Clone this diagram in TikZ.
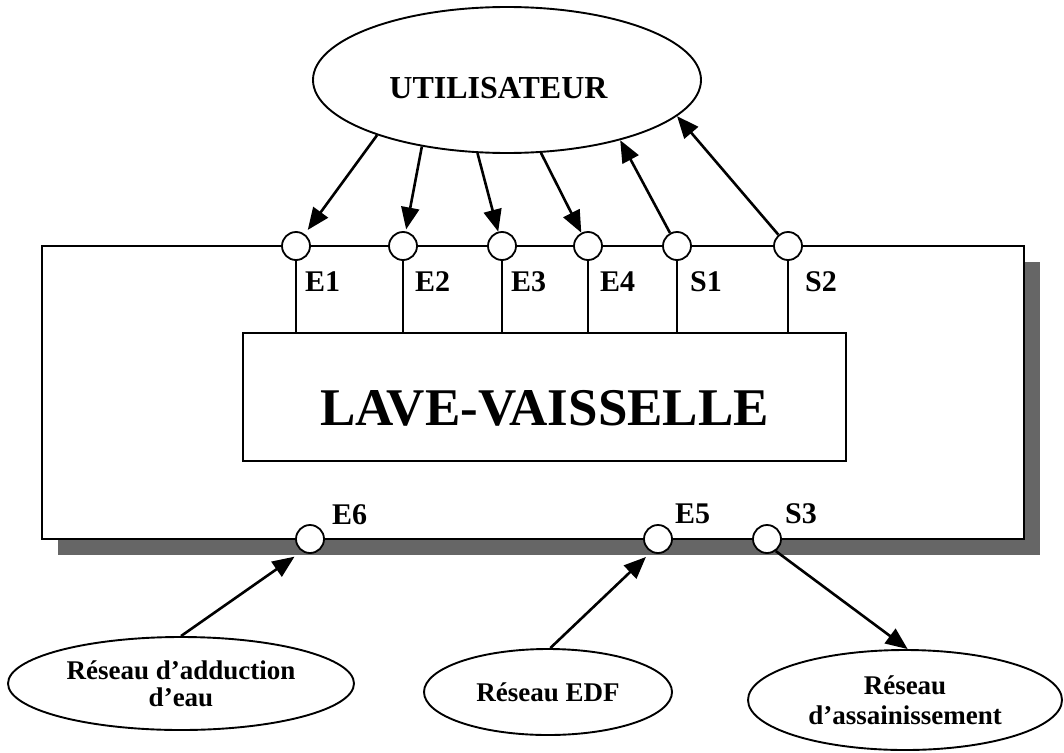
\documentclass[tikz,border=0pt]{standalone}
\usepackage{fontspec}
\setmainfont{Liberation Serif}
\usetikzlibrary{shapes.geometric,arrows.meta}
\begin{document}
\begin{tikzpicture}[x=1pt,y=-1pt,
  line/.style={line width=1.6pt},
  port/.style={circle,draw,fill=white,line width=1.8pt,minimum size=28pt,inner sep=0pt},
  portlabel/.style={anchor=base west,inner sep=0pt,font=\bfseries\fontsize{30}{30}\selectfont},
  oval/.style={ellipse,draw,line width=1.9pt,inner sep=0pt,align=center,font=\bfseries\fontsize{27}{27}\selectfont},
  arr/.style={line width=2.6pt,-{Triangle[length=22pt,width=18pt]}},
]
\useasboundingbox (0,0) rectangle (1064,752);
% shadow and system boundary
\fill[black!60] (58,262) rectangle (1040,555);
\node[draw,fill=white,line width=1.7pt,minimum width=982pt,minimum height=293pt,inner sep=0pt] (sys) at (533,392.5) {};
% dishwasher
\node[draw,line width=1.7pt,fill=white,minimum width=603pt,minimum height=128pt,inner sep=0pt,
      text height=56pt,text depth=0pt,font=\bfseries\fontsize{53}{53}\selectfont] (lv) at (544.5,397) {LAVE-VAISSELLE};
% ports on top
\node[port] (e1) at (296,246) {};
\node[port] (e2) at (403,246) {};
\node[port] (e3) at (502,246) {};
\node[port] (e4) at (588,246) {};
\node[port] (s1) at (677,246) {};
\node[port] (s2) at (788,246) {};
\foreach \p in {e1,e2,e3,e4,s1,s2}
  \draw[line] (\p.south) -- (\p.south |- lv.north);
% ports at bottom
\node[port] (e6) at (310,539) {};
\node[port] (e5) at (658,539) {};
\node[port] (s3) at (767,539) {};
% port labels
\node[portlabel] (le1) at (305,291) {E1};
\node[portlabel] (le2) at (415,291) {E2};
\node[portlabel] (le3) at (511,291) {E3};
\node[portlabel] (le4) at (600,291) {E4};
\node[portlabel] (ls1) at (690,291) {S1};
\node[portlabel] (ls2) at (805,291) {S2};
\node[portlabel] (le6) at (332,524) {E6};
\node[portlabel] (le5) at (675,523) {E5};
\node[portlabel] (ls3) at (785,523) {S3};
% external elements
\node[ellipse,draw,line width=1.9pt,inner sep=0pt,minimum width=388pt,minimum height=146pt,
      text height=36pt,text depth=0pt,font=\bfseries\fontsize{32}{32}\selectfont] (user) at (507,80) {UTILISATEUR\hspace*{17pt}};
\node[oval,minimum width=346pt,minimum height=93pt] (adduction) at (181,683.5) {Réseau d’adduction\\d’eau};
\node[oval,minimum width=248pt,minimum height=86pt] (edf) at (548,692) {Réseau EDF};
\node[oval,minimum width=314pt,minimum height=100pt,font=\bfseries\fontsize{27}{30}\selectfont] (assain) at (905,700) {Réseau\\d’assainissement};
% flows with the user
\draw[arr,shorten >=5pt] (user.203) -- (e1);
\draw[arr,shorten >=2pt] (user.218) -- (e2);
\draw[arr] (user.248) -- (e3);
\draw[arr] (user.295.6) -- (e4);
\draw[arr] (s1) -- (user.332);
\draw[arr] (s2) -- (user.348.4);
% flows with networks
\draw[arr,shorten >=9pt] (adduction.north) -- (e6.237);
\draw[arr,shorten >=7pt] (edf.87) -- (e5.242);
\draw[arr] (s3.306) -- (assain.87);
\end{tikzpicture}
\end{document}
